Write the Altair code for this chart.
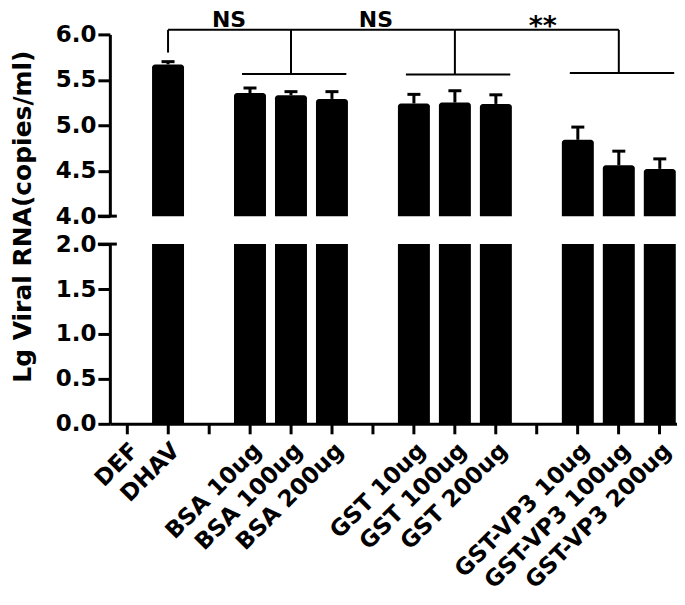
import altair as alt
import pandas as pd

# ---- data ----
categories = ["DEF", "DHAV", "gap1", "BSA 10ug", "BSA 100ug", "BSA 200ug", "gap2",
              "GST 10ug", "GST 100ug", "GST 200ug", "gap3",
              "GST-VP3 10ug", "GST-VP3 100ug", "GST-VP3 200ug"]
bar_cats = ["DEF", "DHAV", "BSA 10ug", "BSA 100ug", "BSA 200ug",
            "GST 10ug", "GST 100ug", "GST 200ug",
            "GST-VP3 10ug", "GST-VP3 100ug", "GST-VP3 200ug"]
means = [0.0, 5.67, 5.355, 5.33, 5.29, 5.24, 5.25, 5.235, 4.84, 4.56, 4.52]
errors = [0.0, 0.03, 0.055, 0.04, 0.08, 0.10, 0.13, 0.10, 0.14, 0.155, 0.11]

top_ticks = [4.0, 4.5, 5.0, 5.5, 6.0]
bottom_ticks = [0.0, 0.5, 1.0, 1.5, 2.0]

# significance brackets
br_from = ["DHAV", "BSA 100ug", "GST 100ug"]
br_to = ["BSA 100ug", "GST 100ug", "GST-VP3 100ug"]
br_y = [6.05, 6.05, 6.05]
drop_cat = ["DHAV", "BSA 100ug", "GST 100ug", "GST-VP3 100ug"]
drop_top = [6.05, 6.05, 6.05, 6.05]
drop_bot = [5.80, 5.565, 5.56, 5.575]
grp_first = ["BSA 10ug", "GST 10ug", "GST-VP3 10ug"]
grp_last = ["BSA 200ug", "GST 200ug", "GST-VP3 200ug"]
grp_y = [5.565, 5.56, 5.575]
ann_text = ["NS", "NS", "**"]
ann_anchor = ["gap1", "gap2", "gap3"]
ann_y = [6.08, 6.08, 6.08]

TITLE = "Lg Viral RNA(copies/ml)"
FONT = "DejaVu Sans"

bars = pd.DataFrame({"cat": bar_cats, "mean": means, "err": errors})
brackets = pd.DataFrame({"a": br_from, "b": br_to, "y": br_y})
drops = pd.DataFrame({"cat": drop_cat, "y": drop_top, "y2": drop_bot})
groups = pd.DataFrame({"a": grp_first, "b": grp_last, "y": grp_y})
ann = pd.DataFrame({"t": ann_text, "cat": ann_anchor, "y": ann_y, "i": [0, 1, 2]})

xscale = alt.Scale(domain=categories, paddingInner=0.22, paddingOuter=0.03)
W = 568

def xenc(field, bp=0.5, axis=None):
    return alt.X(field, type="nominal", scale=xscale, axis=axis, bandPosition=bp)

# ---------- top panel (4 - 6) ----------
yscale_top = alt.Scale(domain=[4, 6], nice=False, zero=False)
yaxis_top = alt.Axis(values=top_ticks, format=".1f", grid=False,
                     labelFont=FONT, labelFontWeight="bold", labelFontSize=23,
                     labelColor="black", labelPadding=2,
                     tickSize=12, tickWidth=3, tickColor="black",
                     domainWidth=3, domainColor="black",
                     title=TITLE, titleFont=FONT, titleFontWeight="bold",
                     titleFontSize=25, titleColor="black", titleAngle=270,
                     titleAlign="center", titleBaseline="alphabetic",
                     titleX=-79, titleY=182)

top_bars = alt.Chart(bars).transform_filter("datum.mean > 4").mark_bar(
    color="black", cornerRadiusTopLeft=3, cornerRadiusTopRight=3
).encode(
    x=xenc("cat"),
    y=alt.Y("mean:Q", scale=yscale_top, axis=yaxis_top, title=TITLE),
    y2=alt.datum(4.0),
)

err_base = alt.Chart(bars).transform_filter("datum.err > 0").transform_calculate(
    top="datum.mean + datum.err")
stems = err_base.mark_rule(color="black", strokeWidth=3).encode(
    x=xenc("cat"),
    y=alt.Y("mean:Q", title=TITLE),
    y2="top:Q",
)
caps = err_base.mark_tick(color="black", thickness=3, size=13, opacity=1).encode(
    x=xenc("cat"),
    y=alt.Y("top:Q", title=TITLE),
)

br_rules = alt.Chart(brackets).mark_rule(color="black", strokeWidth=2).encode(
    x=xenc("a"),
    x2=alt.X2("b", bandPosition=0.5),
    y=alt.Y("y:Q", title=TITLE),
)
drop_rules = alt.Chart(drops).mark_rule(color="black", strokeWidth=2).encode(
    x=xenc("cat"),
    y=alt.Y("y:Q", title=TITLE),
    y2="y2:Q",
)
grp_rules = alt.Chart(groups).mark_rule(color="black", strokeWidth=2).encode(
    x=xenc("a", 0.25),
    x2=alt.X2("b", bandPosition=0.95),
    y=alt.Y("y:Q", title=TITLE),
)

def ann_layer(idx, dx, dy, size):
    return alt.Chart(ann).transform_filter(f"datum.i == {idx}").mark_text(
        font=FONT, fontWeight="bold", fontSize=size, color="black",
        baseline="alphabetic", align="center", dx=dx, dy=dy
    ).encode(
        x=xenc("cat"),
        y=alt.Y("y:Q", title=TITLE),
        text="t:N",
    )

brk_top = alt.Chart(pd.DataFrame({"v": [4.0]})).mark_rule(
    color="black", strokeWidth=3
).encode(y=alt.Y("v:Q", title=TITLE), x=alt.value(-12), x2=alt.value(7))

top = alt.layer(
    top_bars, stems, caps, br_rules, drop_rules, grp_rules,
    ann_layer(0, 20, 0, 22), ann_layer(1, 3, 0, 22), ann_layer(2, 6, 8, 27),
    brk_top,
).properties(width=W, height=182)

# ---------- bottom panel (0 - 2) ----------
yscale_bot = alt.Scale(domain=[0, 2], nice=False)
yaxis_bot = alt.Axis(values=bottom_ticks, format=".1f", grid=False,
                     labelFont=FONT, labelFontWeight="bold", labelFontSize=23,
                     labelColor="black", labelPadding=2,
                     tickSize=12, tickWidth=3, tickColor="black",
                     domainWidth=3, domainColor="black", title=None)
xaxis_bot = alt.Axis(labelAngle=-45, labelAlign="right", labelBaseline="top",
                     labelFont=FONT, labelFontWeight="bold", labelFontSize=23,
                     labelColor="black", labelPadding=5, labelLimit=400,
                     labelOverlap=False,
                     labelExpr="indexof(datum.value, 'gap') == 0 ? '' : datum.label",
                     tickSize=10, tickWidth=3, tickColor="black",
                     domainWidth=3, domainColor="black", title=None, grid=False)

bot_bars = alt.Chart(bars).mark_bar(color="black", clip=True).encode(
    x=xenc("cat", 0.5, xaxis_bot),
    y=alt.Y("mean:Q", scale=yscale_bot, axis=yaxis_bot),
)
brk_bot = alt.Chart(pd.DataFrame({"v": [2.0]})).mark_rule(
    color="black", strokeWidth=3
).encode(y=alt.Y("v:Q"), x=alt.value(-12), x2=alt.value(7))

bottom = alt.layer(bot_bars, brk_bot).properties(width=W, height=180)

chart = alt.vconcat(top, bottom, spacing=28, bounds="flush").resolve_scale(
    x="independent", y="independent"
).configure_view(strokeWidth=0).properties(
    padding={"top": 0, "left": 2, "right": 0, "bottom": 0}
)

chart.save("out.html", embed_options={"renderer": "svg", "actions": False})
